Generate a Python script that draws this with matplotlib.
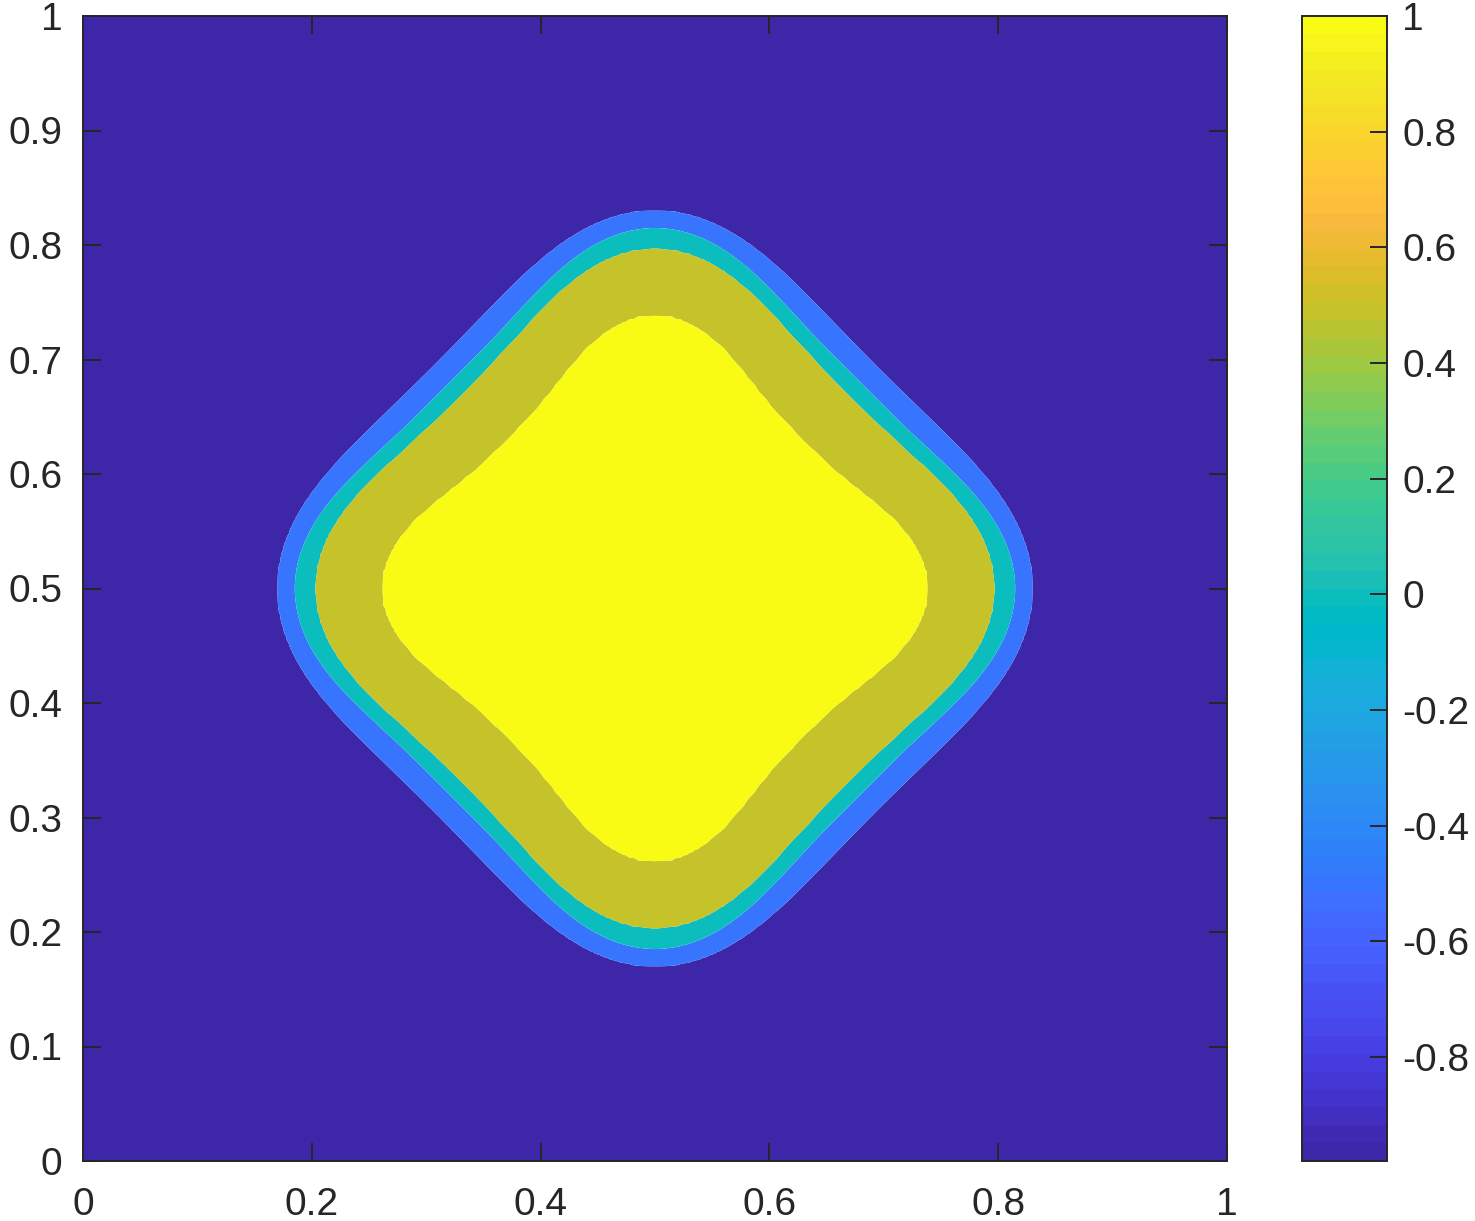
import numpy as np
import matplotlib
matplotlib.use("Agg")
import matplotlib.pyplot as plt
from matplotlib.colors import ListedColormap, Normalize
from matplotlib.cm import ScalarMappable
from matplotlib.ticker import FormatStrFormatter

plt.rcParams['font.family'] = ['Liberation Sans', 'DejaVu Sans']
plt.rcParams['axes.unicode_minus'] = False

# ---- data ----
center = (0.5, 0.5)
# contour levels, inner (yellow edge) -> outer (blue edge)
boundary_levels = [0.95, 0.5, 0.0, -0.5]
# distance of each contour from the centre, sampled at angles (deg) from the x axis
sample_angles = [0, 15, 30, 45]
radius_yellow = [0.240, 0.219, 0.194, 0.183]
radius_olive = [0.295, 0.283, 0.245, 0.242]
radius_teal = [0.313, 0.298, 0.260, 0.256]
radius_blue = [0.330, 0.312, 0.285, 0.274]
field_min, field_max = -0.98, 1.0
band_values = [-0.98, -0.5, 0.0, 0.5, 1.0]          # colour value of each filled band
x_ticks = [0, 0.2, 0.4, 0.6, 0.8, 1.0]
y_ticks = [0, 0.1, 0.2, 0.3, 0.4, 0.5, 0.6, 0.7, 0.8, 0.9, 1.0]
cbar_ticks = [-0.8, -0.6, -0.4, -0.2, 0, 0.2, 0.4, 0.6, 0.8, 1.0]

parula64 = np.array([
[0.2422,0.1504,0.6603],[0.2504,0.1650,0.7076],[0.2578,0.1818,0.7511],[0.2647,0.1978,0.7952],
[0.2706,0.2147,0.8364],[0.2751,0.2342,0.8710],[0.2783,0.2559,0.8991],[0.2803,0.2782,0.9221],
[0.2813,0.3006,0.9414],[0.2810,0.3228,0.9579],[0.2795,0.3447,0.9717],[0.2760,0.3667,0.9829],
[0.2699,0.3892,0.9906],[0.2602,0.4123,0.9952],[0.2440,0.4358,0.9988],[0.2206,0.4603,0.9973],
[0.1963,0.4847,0.9892],[0.1834,0.5074,0.9798],[0.1786,0.5289,0.9682],[0.1764,0.5499,0.9520],
[0.1687,0.5703,0.9359],[0.1540,0.5902,0.9218],[0.1460,0.6091,0.9079],[0.1380,0.6276,0.8973],
[0.1248,0.6459,0.8883],[0.1113,0.6635,0.8763],[0.0952,0.6798,0.8598],[0.0689,0.6948,0.8394],
[0.0297,0.7082,0.8163],[0.0036,0.7203,0.7917],[0.0067,0.7312,0.7660],[0.0433,0.7411,0.7394],
[0.0964,0.7500,0.7120],[0.1408,0.7584,0.6842],[0.1717,0.7670,0.6554],[0.1938,0.7758,0.6251],
[0.2161,0.7843,0.5923],[0.2470,0.7918,0.5567],[0.2906,0.7973,0.5188],[0.3406,0.8008,0.4789],
[0.3909,0.8029,0.4354],[0.4456,0.8024,0.3909],[0.5044,0.7993,0.3480],[0.5616,0.7942,0.3045],
[0.6174,0.7876,0.2612],[0.6720,0.7793,0.2227],[0.7242,0.7698,0.1910],[0.7738,0.7598,0.1646],
[0.8203,0.7498,0.1535],[0.8634,0.7406,0.1596],[0.9035,0.7330,0.1774],[0.9393,0.7288,0.2100],
[0.9728,0.7298,0.2394],[0.9956,0.7434,0.2371],[0.9970,0.7659,0.2199],[0.9952,0.7893,0.2028],
[0.9892,0.8136,0.1885],[0.9786,0.8386,0.1766],[0.9676,0.8639,0.1643],[0.9610,0.8890,0.1537],
[0.9597,0.9135,0.1423],[0.9628,0.9373,0.1265],[0.9691,0.9606,0.1064],[0.9769,0.9839,0.0805]])
cmap = ListedColormap(parula64)
norm = Normalize(field_min, field_max)

# ---- build the field from the contour geometry ----
n = 401
xs = np.linspace(0, 1, n)
X, Y = np.meshgrid(xs, xs)
U, V = X - center[0], Y - center[1]
r = np.hypot(U, V)
th = np.arctan2(V, U)

# smooth 8-fold symmetric radius curve fitted (least squares) to the sampled radii
phi = np.deg2rad(sample_angles)
A = np.stack([np.ones_like(phi), np.cos(4 * phi), np.cos(8 * phi)], axis=1)
basis = np.stack([np.ones_like(th), np.cos(4 * th), np.cos(8 * th)], axis=0)

def radius_curve(samples):
    coef, *_ = np.linalg.lstsq(A, np.asarray(samples), rcond=None)
    return np.tensordot(coef, basis, axes=1)

R = [radius_curve(s) for s in (radius_yellow, radius_olive, radius_teal, radius_blue)]
R_ext = [R[0] - 0.05] + R + [R[-1] + 0.05]
v_ext = [field_max] + boundary_levels + [field_min]
Z = np.full_like(r, field_min)
for k in range(len(R_ext) - 2, -1, -1):
    r0, r1 = R_ext[k], R_ext[k + 1]
    m = r <= r1
    t = np.clip((r - r0) / (r1 - r0), 0, 1)
    Z[m] = (v_ext[k] + t * (v_ext[k + 1] - v_ext[k]))[m]
Z[r <= R_ext[0]] = field_max

fig = plt.figure(figsize=(14.75, 12.21), dpi=100)
W, H = 1475, 1221
ax = fig.add_axes([83 / W, (H - 1161) / H, (1227 - 83) / W, (1161 - 16) / H])
levels = [field_min - 0.01, -0.5, 0.0, 0.5, 0.95, field_max + 0.01]
colors = [cmap(norm(v)) for v in band_values]
ax.contourf(X, Y, Z, levels=levels, colors=colors, antialiased=True)
ax.set_xlim(0, 1)
ax.set_ylim(0, 1)
ax.set_xticks(x_ticks)
ax.set_yticks(y_ticks)
ax.xaxis.set_major_formatter(FormatStrFormatter('%g'))
ax.yaxis.set_major_formatter(FormatStrFormatter('%g'))
tc = '#262626'
fs = 28
ax.tick_params(direction='in', length=13, width=1.4, colors=tc, labelsize=fs,
               top=True, right=True)
ax.tick_params(axis='x', pad=19)
ax.tick_params(axis='y', pad=15)
for sp in ax.spines.values():
    sp.set_color(tc)
    sp.set_linewidth(1.4)

cax = fig.add_axes([1302 / W, (H - 1161) / H, (1387 - 1302) / W, (1161 - 16) / H])
cb = fig.colorbar(ScalarMappable(norm=norm, cmap=cmap), cax=cax)
cb.set_ticks(cbar_ticks)
cb.ax.yaxis.set_major_formatter(FormatStrFormatter('%g'))
cb.ax.tick_params(direction='in', length=12, width=1.4, colors=tc, labelsize=fs, pad=11)
cb.outline.set_edgecolor(tc)
cb.outline.set_linewidth(1.4)

fig.savefig('out.png', dpi=100)
